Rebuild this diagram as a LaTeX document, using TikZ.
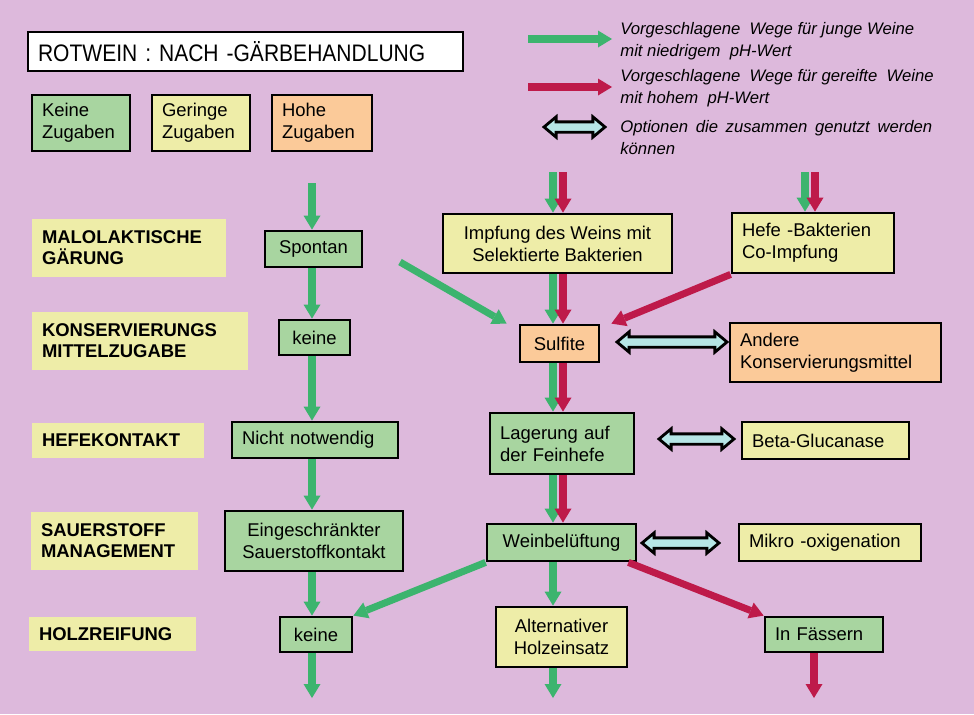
\documentclass[tikz,border=0pt]{standalone}
\usepackage{fontspec}
\setmainfont{Liberation Sans}
\newfontfamily\titlefont{Liberation Sans}[FakeStretch=0.88]
\usepackage{tikz}
\usetikzlibrary{arrows.meta}
\usetikzlibrary{shapes.arrows}

\definecolor{bgpink}{RGB}{221,185,220}
\definecolor{boxgreen}{RGB}{168,213,160}
\definecolor{boxyellow}{RGB}{238,237,168}
\definecolor{boxorange}{RGB}{251,202,153}
\definecolor{arrgreen}{RGB}{60,180,110}
\definecolor{arrred}{RGB}{190,26,74}
\definecolor{optcyan}{RGB}{182,230,230}

\begin{document}
\begin{tikzpicture}[x=0.02cm, y=-0.02cm,
  box/.style={draw=black, line width=1.6pt, inner xsep=2mm, inner ysep=0pt,
    font=\fontsize{10.5}{12.5}\selectfont},
  gbox/.style={box, fill=boxgreen},
  ybox/.style={box, fill=boxyellow},
  obox/.style={box, fill=boxorange},
  stage/.style={fill=boxyellow, inner xsep=2mm, inner ysep=0pt, align=left,
    font=\fontsize{10.5}{12}\selectfont\bfseries},
  legtext/.style={anchor=west, align=left, inner sep=0pt,
    font=\fontsize{9.5}{12.5}\selectfont\itshape},
  garrow/.style={draw=arrgreen, line width=4pt,
    -{Triangle[width=3.4mm,length=2.8mm,line width=0pt]}},
  rarrow/.style={draw=arrred, line width=4pt,
    -{Triangle[width=3.4mm,length=2.8mm,line width=0pt]}},
  optarrow/.style={double arrow, draw=black, line width=1.6pt, fill=optcyan,
    inner xsep=0pt, inner ysep=0.75mm, double arrow head extend=1mm,
    double arrow tip angle=80}]
\useasboundingbox (0,0) rectangle (974,714);
\fill[bgpink] (0,0) rectangle (974,714);

\node[box, fill=white, text width=83mm, minimum height=7.8mm, align=left,
  font=\titlefont\fontsize{13.6}{15}\selectfont] (title) at (245.5,51.5) {ROTWEIN : NACH -GÄRBEHANDLUNG};
\foreach \n/\x/\c/\w/\t in {keine/81/boxgreen/15.6/Keine, geringe/201/boxyellow/15.6/Geringe,
    hohe/322/boxorange/16/Hohe}
  \node[box, fill=\c, text width=\w mm, minimum height=11.2mm, align=left] (\n) at (\x,123) {\t\\Zugaben};

\coordinate (lga) at (528,39);
\coordinate (lgb) at (528,87);
\node[legtext] (lgt1) at (620,41) {Vorgeschlagene \ Wege für junge Weine\\mit niedrigem \ pH-Wert};
\node[legtext] (lgt2) at (620,88) {Vorgeschlagene \ Wege für gereifte \ Weine\\mit hohem \ pH-Wert};
\node[legtext, align=justify, text width=62.4mm] (lgt3) at (620,137.5) {Optionen die zusammen genutzt werden\linebreak können};
\draw[garrow] (lga) -- ([xshift=-1.6mm]lga -| lgt1.west);
\draw[rarrow] (lgb) -- ([xshift=-1.6mm]lgb -| lgt2.west);
\node[optarrow, minimum height=12.2mm] (lgopt) at (574.5,127) {};

\foreach \n/\x/\y/\w/\h/\t in {mal/129/248/34.8/11.6/{MALOLAKTISCHE\\GÄRUNG},
    kons/140/341/39.2/11.6/{KONSERVIERUNGS\\MITTELZUGABE},
    hefek/118/440.5/30.4/7/{HEFEKONTAKT},
    sauer/114.5/541/29.4/11.6/{SAUERSTOFF\\MANAGEMENT},
    holz/112.5/634/29.4/6.8/{HOLZREIFUNG}}
  \node[stage, text width=\w mm, minimum height=\h mm] (\n) at (\x,\y) {\t};

\node[gbox, minimum width=19.4mm, minimum height=7.2mm] (spontan) at (313.5,249) {Spontan};
\node[gbox, minimum width=14.2mm, minimum height=7mm] (keine1) at (314.5,337.5) {keine};
\node[gbox, text width=29.2mm, minimum height=7.2mm, align=left] (nicht) at (315,440) {Nicht notwendig};
\node[gbox, minimum width=35.6mm, minimum height=12mm, align=center] (eing) at (314,541) {Eingeschränkter\\Sauerstoffkontakt};
\node[gbox, minimum width=14.4mm, minimum height=7mm] (keine2) at (316,634.5) {keine};

\node[ybox, minimum width=45.8mm, minimum height=11.8mm, align=center] (impf) at (557.5,243.5) {Impfung des Weins mit\\Selektierte Bakterien};
\node[ybox, text width=28.4mm, minimum height=12mm, align=left] (hefe) at (813,243) {Hefe -Bakterien\\Co-Impfung};
\node[obox, minimum width=15.8mm, minimum height=7.4mm] (sulf) at (559.5,343.5) {Sulfite};
\node[obox, text width=38.2mm, minimum height=11.8mm, align=left] (andere) at (835.5,352.5) {Andere\\Konservierungsmittel};
\node[gbox, text width=24.8mm, minimum height=12.2mm, align=left] (lager) at (562,443.5) {Lagerung auf\\der Feinhefe};
\node[ybox, text width=29.4mm, minimum height=7.4mm, align=left] (beta) at (825.5,440.5) {Beta-Glucanase};
\node[gbox, minimum width=29.8mm, minimum height=7.4mm] (weinb) at (561.5,542.5) {Weinbelüftung};
\node[ybox, text width=32.4mm, minimum height=7.4mm, align=left] (mikro) at (830,542.5) {Mikro -oxigenation};
\node[ybox, minimum width=26.2mm, minimum height=12mm, align=center] (altern) at (561.5,637) {Alternativer\\Holzeinsatz};
\node[gbox, text width=19.6mm, minimum height=7mm, align=left] (faess) at (824,634.5) {In Fässern};

\node[optarrow, minimum height=22mm] (opt1) at (672,342) {};
\node[optarrow, minimum height=15mm] (opt2) at (696.5,439) {};
\node[optarrow, minimum height=15.4mm] (opt3) at (680.5,543) {};

\coordinate (lx) at (312,0);
\coordinate (tl) at (312,183);
\coordinate (tg) at (553,172);
\coordinate (tr) at (563,172);
\coordinate (hg) at (805,172);
\coordinate (hr) at (815,172);
\coordinate (sp) at (400,262);
\coordinate (bl) at (312,698);
\coordinate (bm) at (553,698);
\coordinate (br) at (814,698);

\draw[garrow] (tl) -- (tl |- spontan.north);
\draw[garrow] (spontan.south -| lx) -- (keine1.north -| lx);
\draw[garrow] (keine1.south -| lx) -- (nicht.north -| lx);
\draw[garrow] (nicht.south -| lx) -- (eing.north -| lx);
\draw[garrow] (eing.south -| lx) -- (keine2.north -| lx);
\draw[garrow] (keine2.south -| lx) -- (bl);

\draw[garrow] (tg) -- (tg |- impf.north);
\draw[rarrow] (tr) -- (tr |- impf.north);
\draw[garrow] (hg) -- (hg |- hefe.north);
\draw[rarrow] (hr) -- (hr |- hefe.north);
\draw[garrow] (tg |- impf.south) -- (tg |- sulf.north);
\draw[rarrow] (tr |- impf.south) -- (tr |- sulf.north);
\draw[garrow] (tg |- sulf.south) -- (tg |- lager.north);
\draw[rarrow] (tr |- sulf.south) -- (tr |- lager.north);
\draw[garrow] (tg |- lager.south) -- (tg |- weinb.north);
\draw[rarrow] (tr |- lager.south) -- (tr |- weinb.north);
\draw[garrow] (tg |- weinb.south) -- (tg |- altern.north);
\draw[garrow] (tg |- altern.south) -- (bm);

\draw[garrow] (sp) -- ([xshift=-2.4mm]sulf.north west);
\draw[rarrow] (hefe.south west) -- ([xshift=2.2mm]sulf.north east);
\draw[garrow] (weinb.south west) -- (keine2.north east);
\draw[rarrow] ([xshift=-1.8mm]weinb.south east) -- (faess.north west);
\draw[rarrow] (faess.south -| br) -- (br);
\end{tikzpicture}
\end{document}
